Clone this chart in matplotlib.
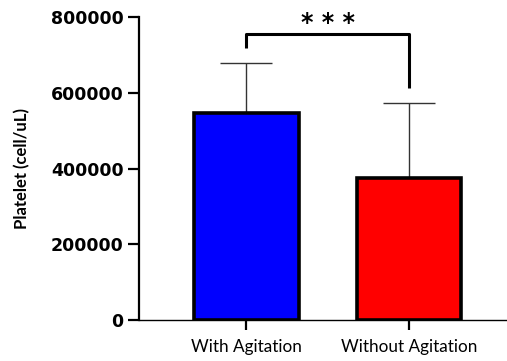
import numpy as np
import matplotlib
matplotlib.use('Agg')
import matplotlib.pyplot as plt

groups = ['With Agitation', 'Without Agitation']
means = [548000, 374000]
sd_upper = [131000, 199000]
colors = ['#0000ff', '#ff0000']
y_ticks = [0, 200000, 400000, 600000, 800000]

fig = plt.figure(figsize=(5.07, 3.61), dpi=100)
ax = fig.add_axes([0.274, 0.1136, 0.726, 0.839])

x = np.arange(len(groups))
ax.bar(x, means, width=0.64, color=colors, edgecolor='black', linewidth=2.6, zorder=2)
ax.errorbar(x, means, yerr=[np.zeros(len(means)), sd_upper], fmt='none',
            ecolor='#333333', elinewidth=1.0, capsize=19, capthick=1.0, zorder=1)

# significance bracket
ax.plot([0, 0, 1, 1], [718000, 755000, 755000, 612000], color='black', lw=2.2,
        clip_on=False, solid_capstyle='butt')
ax.text(0.5, 784000, '* * *', ha='center', va='center', fontsize=17, fontweight='bold')

ax.set_xlim(-0.66, 1.6)
ax.set_ylim(0, 800000)
ax.set_yticks(y_ticks)
ax.set_yticklabels([str(v) for v in y_ticks], fontsize=12.5, fontweight='bold')
ax.set_xticks(x)
ax.set_xticklabels(groups, fontsize=12.3, family='Lato')
ax.set_ylabel('Platelet (cell/uL)', fontsize=12, fontweight='bold', family='Lato', labelpad=15)

for s in ['top', 'right']:
    ax.spines[s].set_visible(False)
ax.spines['left'].set_linewidth(1.6)
ax.spines['bottom'].set_linewidth(1.0)
ax.tick_params(axis='y', length=8, width=1.6, pad=3)
ax.tick_params(axis='x', length=7, width=1.6, pad=7)

fig.savefig('out.png', dpi=100)
